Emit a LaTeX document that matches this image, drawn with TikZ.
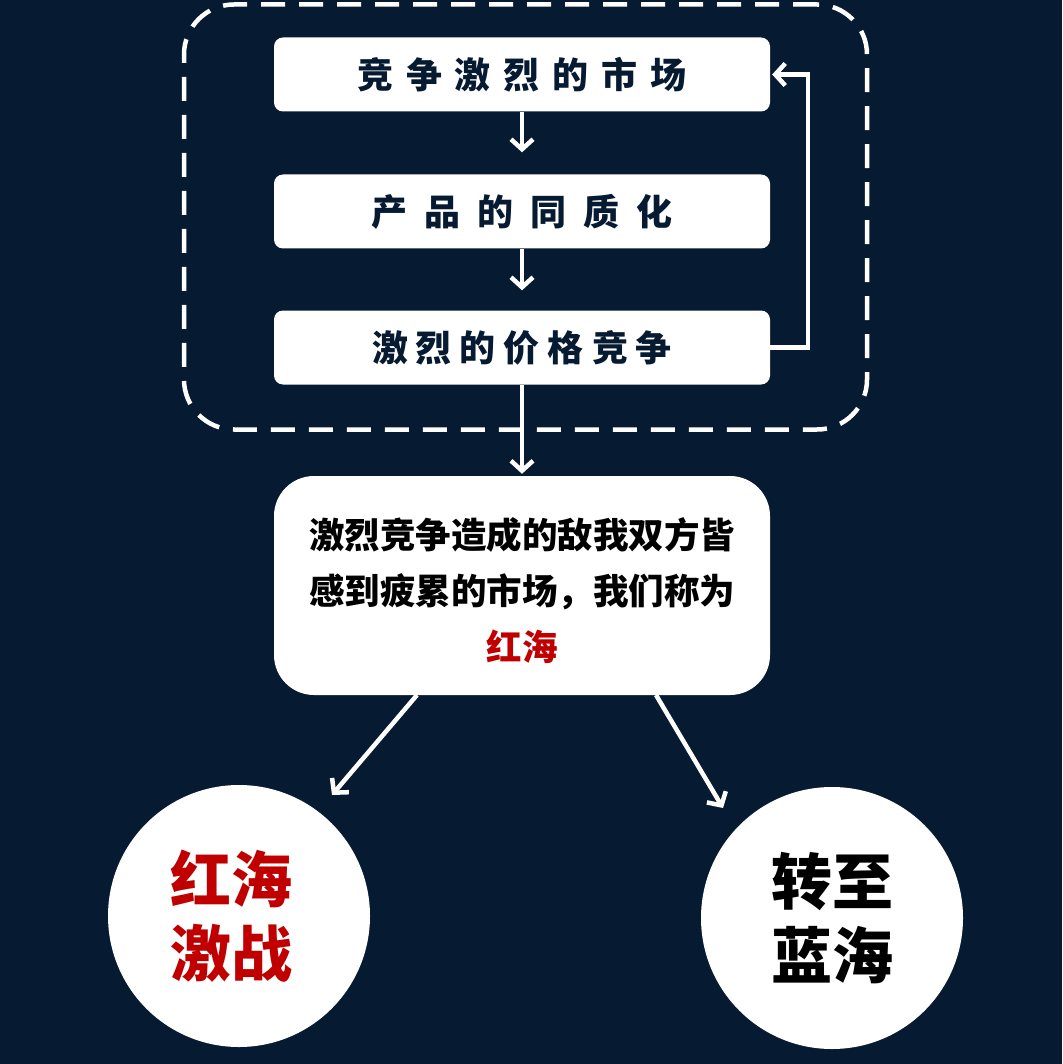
\documentclass[tikz,border=0pt]{standalone}
\usepackage{fontspec}
\newfontfamily\cjk{Noto Sans CJK SC Black}
\usetikzlibrary{arrows.meta}
\definecolor{bgnavy}{HTML}{061A32}
\definecolor{redsea}{HTML}{C00000}
\begin{document}
\begin{tikzpicture}[x=1pt,y=-1pt,
  stepbox/.style={fill=white,rounded corners=9pt,minimum width=496pt,minimum height=74pt,inner sep=0pt,
    font=\cjk\fontsize{36}{36}\selectfont,text=bgnavy},
  bigbox/.style={fill=white,rounded corners=40pt,minimum width=496pt,minimum height=219pt,inner sep=0pt,
    align=center,font=\cjk\fontsize{35.5}{56}\selectfont,text=black},
  sea/.style={circle,fill=white,minimum size=262pt,inner sep=0pt,align=center,
    font=\cjk\fontsize{61}{74}\selectfont},
  conn/.style={draw=white,line width=4.5pt,-{Straight Barb[length=10pt,width=22pt,line width=4.5pt]}},
  frame/.style={draw=white,line width=4.5pt,dash pattern=on 24pt off 14pt,rounded corners=50pt,
    minimum width=683pt,minimum height=425pt,inner sep=0pt}]
\useasboundingbox (0,0) rectangle (1062,1064);
\fill[bgnavy] (0,0) rectangle (1062,1064);
\node[frame] (fr) at (525.5,217) {};
\node[stepbox] (b1) at (522,74.5) {竞\hspace{13pt}争\hspace{13pt}激\hspace{13pt}烈\hspace{13pt}的\hspace{13pt}市\hspace{13pt}场};
\node[stepbox] (b2) at (522,211.5) {产\hspace{17pt}品\hspace{17pt}的\hspace{17pt}同\hspace{17pt}质\hspace{17pt}化};
\node[stepbox] (b3) at (522,347.5) {激\hspace{8pt}烈\hspace{8pt}的\hspace{8pt}价\hspace{8pt}格\hspace{8pt}竞\hspace{8pt}争};
\node[bigbox] (b4) at (522,585.5) {\parbox{440pt}{\vspace*{11pt}\centering 激烈竞争造成的敌我双方皆\\感到疲累的市场，我们称为\\\textcolor{redsea}{红海}}};
\node[sea,text=redsea] (c1) at (239,916) {\hspace*{-16pt}红海\\\hspace*{-16pt}激战};
\node[sea,text=black] (c2) at (832,918) {转至\\蓝海};
\draw[conn,shorten >=22pt] (b1) -- (b2);
\draw[conn,shorten >=20pt] (b2) -- (b3);
\draw[conn,shorten >=2pt] (b3) -- (b4);
\draw[conn] (b3.east) -- ++(38,0) |- ([xshift=2pt]b1.east);
\coordinate (l0) at (417,695);
\coordinate (l1) at (332,795);
\coordinate (r0) at (656,695);
\coordinate (r1) at (723,808);
\draw[conn] (l0) -- (l1);
\draw[conn] (r0) -- (r1);
\end{tikzpicture}
\end{document}
